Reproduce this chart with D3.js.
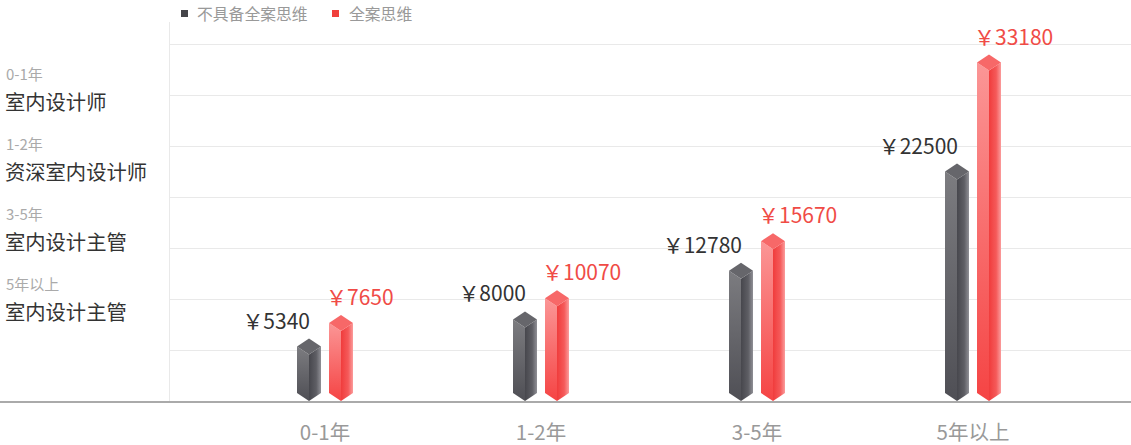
<!DOCTYPE html>
<html><head><meta charset="utf-8">
<script src="https://cdn.jsdelivr.net/npm/d3@7"></script>
<style>body{margin:0;background:#fff;}svg{display:block;font-family:"Noto Sans CJK SC","Noto Sans",sans-serif;}</style>
</head><body>
<svg id="c" width="1131" height="445"></svg>
<script>
const categories = ["0-1年","1-2年","3-5年","5年以上"];
const seriesNames = ["不具备全案思维","全案思维"];
const noFull = [5340, 8000, 12780, 22500];
const full = [7650, 10070, 15670, 33180];
const roleYears = ["0-1年","1-2年","3-5年","5年以上"];
const roleTitles = ["室内设计师","资深室内设计师","室内设计主管","室内设计主管"];
const yTicks = [0,5000,10000,15000,20000,25000,30000,35000];

(function(){
const svg = d3.select("#c");
const W = 1131, H = 445;
const base = 401, plotTop = 44, axisX = 169.5;
const x = d3.scaleBand().domain(categories).range([217,1081]);
const y = d3.scaleLinear().domain([0,35000]).range([base, plotTop]);

const defs = svg.append("defs");
function grad(id, x1,y1,x2,y2, stops){
  const g = defs.append("linearGradient").attr("id",id).attr("x1",x1).attr("y1",y1).attr("x2",x2).attr("y2",y2);
  stops.forEach(s=>g.append("stop").attr("offset",s[0]).attr("stop-color",s[1]));
}
grad("gL",0,0,0,1,[[0,"#7c7c80"],[1,"#4f4f55"]]);
grad("gR",0,0,1,0,[[0,"#47474d"],[0.6,"#5e5e64"],[1,"#909096"]]);
grad("rL",0,0,0,1,[[0,"#fb9696"],[1,"#f54444"]]);
grad("rR",0,0,1,0,[[0,"#f03c3c"],[0.6,"#f55a5a"],[1,"#fb9c9c"]]);

// gridlines
svg.append("g").selectAll("line").data(yTicks.slice(1)).join("line")
  .attr("x1",axisX).attr("x2",W).attr("y1",d=>Math.round(y(d))+0.5).attr("y2",d=>Math.round(y(d))+0.5)
  .attr("stroke","#e9e9e9").attr("stroke-width",1);
svg.append("line").attr("x1",axisX).attr("x2",axisX).attr("y1",22).attr("y2",base).attr("stroke","#e9e9e9");
// baseline
svg.append("line").attr("x1",0).attr("x2",W).attr("y1",base+1).attr("y2",base+1).attr("stroke","#aaaaaa").attr("stroke-width",2);

// x labels
svg.append("g").selectAll("text").data(categories).join("text")
  .attr("x",d=>x(d)+x.bandwidth()/2).attr("y",440).attr("text-anchor","middle")
  .attr("font-size",20.5).attr("fill","#999").text(d=>d);

// left labels
const lg = svg.append("g");
roleYears.forEach((r,i)=>{
  lg.append("text").attr("x",6).attr("y",80+i*70).attr("font-size",15).attr("fill","#aaa").text(r);
  lg.append("text").attr("x",5).attr("y",110+i*70).attr("font-size",20.3).attr("fill","#333").text(roleTitles[i]);
});

// legend
const leg = [{n:seriesNames[0],c:"#444449",x:181,tx:197},{n:seriesNames[1],c:"#f0403c",x:332,tx:349}];
leg.forEach(l=>{
  svg.append("rect").attr("x",l.x).attr("y",10).attr("width",7).attr("height",7).attr("fill",l.c);
  svg.append("text").attr("x",l.tx).attr("y",19.5).attr("font-size",15.8).attr("fill","#999").text(l.n);
});

// bars
const hw = 12, hh = 8;
function drawBar(g, cx, v, kind){
  const vy = y(v);
  const pts = a=>a.map(p=>p.join(",")).join(" ");
  g.append("polygon").attr("points",pts([[cx-hw,vy],[cx,vy+hh],[cx,base],[cx-hw,base-hh]])).attr("fill",`url(#${kind}L)`);
  g.append("polygon").attr("points",pts([[cx,vy+hh],[cx+hw,vy],[cx+hw,base-hh],[cx,base]])).attr("fill",`url(#${kind}R)`);
  g.append("polygon").attr("points",pts([[cx,vy-hh],[cx+hw,vy],[cx,vy+hh],[cx-hw,vy]]))
    .attr("fill", kind==="g" ? "#66666b" : "#f76868");
}
const bg = svg.append("g");
categories.forEach((c,i)=>{
  const cc = x(c)+x.bandwidth()/2;
  drawBar(bg, cc-16, noFull[i], "g");
  drawBar(bg, cc+16, full[i], "r");
  bg.append("text").attr("x",cc-16+1).attr("y",y(noFull[i])-hh-10).attr("text-anchor","end")
    .attr("font-size",21).attr("fill","#333").text("￥"+noFull[i]);
  bg.append("text").attr("x",cc+16-hw-3).attr("y",y(full[i])-hh-10).attr("text-anchor","start")
    .attr("font-size",21).attr("fill","#f04b46").text("￥"+full[i]);
});
})();
</script>
</body></html>
